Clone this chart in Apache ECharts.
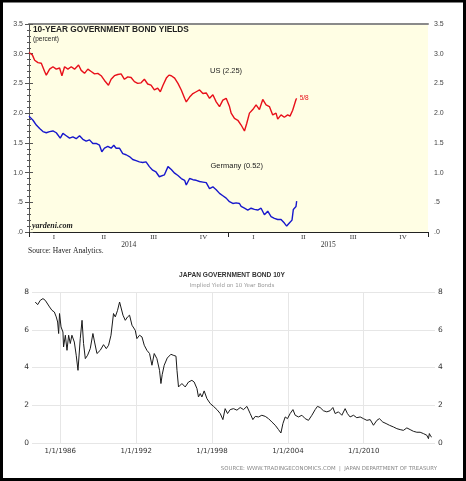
<!DOCTYPE html>
<html><head><meta charset="utf-8">
<script src="https://cdn.jsdelivr.net/npm/echarts@6/dist/echarts.min.js"></script>
<style>html,body{margin:0;padding:0;background:#fff}#c{width:466px;height:481px}</style>
</head><body><div id="c"></div>
<script>
// ---- Top chart: 10-year government bond yields (months since Jan 2014) ----
const quarterLabels = ['I','II','III','IV','I','II','III','IV'];
const yearLabels = ['2014','2015'];
const usMonths = [0,0.2,0.34,0.54,0.74,0.94,1.04,1.24,1.44,1.64,
  1.84,1.98,2.14,2.34,2.54,2.74,2.98,3.14,3.34,3.54,
  3.74,3.94,4.14,4.34,4.54,4.78,4.94,5.14,5.34,5.54,
  5.74,5.94,6.14,6.34,6.54,6.74,6.94,7.14,7.34,7.54,
  7.74,7.9,8.06,8.26,8.42,8.56,8.76,8.96,9.16,9.36,
  9.46,9.66,9.86,10.06,10.26,10.46,10.66,10.86,11.06,11.26,
  11.46,11.66,11.86,12.06,12.16,12.36,12.56,12.76,12.96,13.1,
  13.26,13.46,13.66,13.86,14.06,14.26,14.46,14.66,14.86,14.96,
  15.16,15.36,15.56,15.7,15.86,16.06,16.1];
const usValues = [3.02,2.98,2.89,2.85,2.84,2.70,2.64,2.74,2.78,2.74,
  2.76,2.63,2.78,2.74,2.78,2.74,2.81,2.72,2.67,2.74,
  2.70,2.66,2.67,2.63,2.55,2.47,2.57,2.63,2.65,2.66,
  2.57,2.61,2.60,2.53,2.50,2.51,2.57,2.49,2.47,2.39,
  2.42,2.36,2.47,2.59,2.64,2.63,2.59,2.50,2.39,2.25,
  2.19,2.27,2.33,2.36,2.39,2.33,2.34,2.25,2.31,2.19,
  2.11,2.22,2.25,2.11,2.00,1.91,1.88,1.80,1.70,1.83,
  2.00,2.06,2.14,2.06,2.23,2.14,2.11,1.97,2.00,1.90,
  1.97,1.93,1.97,1.95,2.05,2.23,2.25];
const deMonths = [0,0.24,0.44,0.64,0.84,1.04,1.24,1.44,1.64,1.88,
  2.04,2.24,2.44,2.64,2.84,3.04,3.24,3.44,3.64,3.84,
  4.04,4.24,4.38,4.54,4.74,4.94,5.1,5.24,5.44,5.64,
  5.84,6.04,6.24,6.44,6.64,6.84,7.04,7.24,7.44,7.64,
  7.84,7.94,8.14,8.36,8.56,8.76,8.96,9.16,9.36,9.46,
  9.66,9.86,10.06,10.26,10.46,10.66,10.86,11.06,11.26,11.46,
  11.66,11.86,12.06,12.26,12.46,12.66,12.76,12.96,13.16,13.36,
  13.56,13.76,13.96,14.16,14.36,14.56,14.76,14.96,15.16,15.36,
  15.5,15.66,15.82,15.9,16.06,16.1];
const deValues = [1.95,1.88,1.80,1.74,1.69,1.67,1.69,1.70,1.67,1.58,
  1.66,1.62,1.58,1.60,1.57,1.62,1.56,1.53,1.55,1.49,
  1.49,1.46,1.35,1.41,1.44,1.41,1.46,1.41,1.41,1.32,
  1.30,1.27,1.22,1.20,1.18,1.17,1.18,1.10,1.04,1.01,
  0.93,0.90,0.96,1.10,1.05,0.99,0.95,0.90,0.87,0.79,
  0.90,0.88,0.87,0.85,0.84,0.83,0.73,0.76,0.71,0.65,
  0.61,0.57,0.51,0.48,0.49,0.48,0.43,0.40,0.37,0.40,
  0.38,0.37,0.40,0.29,0.35,0.26,0.23,0.21,0.21,0.15,
  0.10,0.15,0.20,0.38,0.43,0.52];

// ---- Bottom chart: Japan government bond 10Y (decimal years) ----
const jpYears = [1984.02,1984.21,1984.42,1984.63,1984.81,1984.95,1985.15,1985.34,1985.53,1985.68,
  1985.79,1985.87,1985.94,1986.06,1986.21,1986.26,1986.40,1986.53,1986.66,1986.79,
  1986.92,1987.11,1987.26,1987.40,1987.58,1987.72,1987.84,1987.98,1988.16,1988.37,
  1988.58,1988.71,1988.90,1989.16,1989.42,1989.64,1989.82,1990.01,1990.21,1990.35,
  1990.53,1990.69,1990.80,1990.96,1991.14,1991.32,1991.48,1991.67,1991.93,1992.06,
  1992.27,1992.46,1992.64,1992.85,1993.06,1993.25,1993.43,1993.64,1993.85,1993.96,
  1994.06,1994.22,1994.46,1994.75,1994.93,1995.15,1995.23,1995.35,1995.62,1995.88,
  1996.14,1996.41,1996.59,1996.81,1996.93,1997.07,1997.20,1997.38,1997.60,1997.86,
  1998.12,1998.39,1998.65,1998.86,1999.04,1999.23,1999.44,1999.70,1999.97,2000.23,
  2000.49,2000.76,2001.02,2001.23,2001.42,2001.68,2001.94,2002.21,2002.47,2002.74,
  2003.00,2003.26,2003.45,2003.61,2003.79,2003.97,2004.18,2004.40,2004.58,2004.84,
  2005.11,2005.37,2005.63,2005.90,2006.16,2006.34,2006.55,2006.81,2007.08,2007.34,
  2007.56,2007.74,2008.00,2008.27,2008.53,2008.71,2008.92,2009.19,2009.45,2009.72,
  2009.98,2010.25,2010.51,2010.77,2011.04,2011.24,2011.51,2011.77,2012.03,2012.35,
  2012.62,2012.88,2013.14,2013.41,2013.67,2013.93,2014.20,2014.46,2014.72,2014.99,
  2015.12,2015.19,2015.30,2015.38];
const jpValues = [7.47,7.33,7.56,7.65,7.56,7.47,7.21,7.03,6.94,6.68,
  6.41,5.80,6.86,6.15,5.88,5.09,5.71,4.91,5.71,5.27,
  5.71,5.35,4.65,3.85,5.53,6.50,5.27,4.47,4.65,5.00,
  5.80,5.35,4.74,4.91,5.21,5.00,5.18,5.71,6.86,6.68,
  7.03,7.47,7.56,6.77,6.50,6.68,6.77,6.24,5.97,5.53,
  5.71,5.62,5.18,4.91,4.74,4.12,4.74,4.47,3.85,3.15,
  3.62,4.12,4.50,4.70,4.65,4.60,3.85,2.97,3.15,2.97,
  3.23,3.32,3.23,2.88,2.44,2.62,2.44,2.76,2.35,2.09,
  1.94,1.77,1.56,1.24,1.82,1.56,1.77,1.82,1.74,1.88,
  1.77,1.94,1.56,1.24,1.41,1.38,1.47,1.41,1.29,1.11,
  0.94,0.71,0.53,1.03,1.38,1.29,1.56,1.77,1.47,1.38,
  1.47,1.29,1.20,1.47,1.77,1.94,1.88,1.71,1.65,1.71,
  1.88,1.56,1.65,1.47,1.82,1.56,1.38,1.47,1.34,1.38,
  1.29,1.20,1.24,0.94,1.20,1.29,1.11,1.03,0.94,0.85,
  0.76,0.71,0.67,0.80,0.71,0.62,0.57,0.57,0.50,0.41,
  0.23,0.50,0.35,0.32];
const jpTickYears = [1986,1992,1998,2004,2010];

const usData = usMonths.map((m, i) => [m, usValues[i]]);
const deData = deMonths.map((m, i) => [m, deValues[i]]);
const jpData = jpYears.map((y, i) => [y, jpValues[i]]);

const SANS = '"Liberation Sans", Arial, sans-serif';
const SERIF = '"Liberation Serif", "Times New Roman", serif';
const TE = '"DejaVu Sans", Verdana, sans-serif';
const topFmt = v => v.toFixed(1).replace(/^0/, '');
const jpGrid = '#e6e6e6';

const chart = echarts.init(document.getElementById('c'), null, {renderer: 'canvas'});
chart.setOption({
  animation: false,
  backgroundColor: '#ffffff',
  grid: [
    {left: 29, top: 24, width: 399, height: 208, show: true, backgroundColor: '#fffee4', borderWidth: 0},
    {left: 35, top: 292, width: 397, height: 151, show: false}
  ],
  xAxis: [
    {type: 'value', gridIndex: 0, min: 0, max: 24, interval: 12,
     axisLine: {show: true, lineStyle: {color: '#222', width: 1}},
     axisTick: {show: true, length: 5, lineStyle: {color: '#222'}},
     axisLabel: {show: false}, splitLine: {show: false}},
    {type: 'category', gridIndex: 0, position: 'bottom', data: quarterLabels, boundaryGap: true,
     axisLine: {show: false}, axisTick: {show: false}, splitLine: {show: false},
     axisLabel: {margin: 2, fontFamily: SERIF, fontSize: 7, color: '#333'}},
    {type: 'category', gridIndex: 0, position: 'bottom', data: yearLabels, boundaryGap: true,
     axisLine: {show: false}, axisTick: {show: false}, splitLine: {show: false},
     axisLabel: {margin: 9.5, fontFamily: SERIF, fontSize: 7.5, color: '#333'}},
    {type: 'value', gridIndex: 0, position: 'top', min: 0, max: 1,
     axisLine: {show: true, lineStyle: {color: '#8a8a8a', width: 2}},
     axisTick: {show: false}, axisLabel: {show: false}, splitLine: {show: false}},
    {type: 'value', gridIndex: 1, min: 1984, max: 2015.4,
     axisLine: {show: false},
     axisTick: {show: false, customValues: jpTickYears},
     axisLabel: {customValues: jpTickYears, formatter: v => '1/1/' + v, margin: 5,
                 fontFamily: TE, fontSize: 7, color: '#333'},
     splitLine: {show: true, lineStyle: {color: jpGrid, width: 1}}}
  ],
  yAxis: [
    {type: 'value', gridIndex: 0, position: 'left', min: 0, max: 3.5, interval: 0.5,
     axisLine: {show: true, lineStyle: {color: '#555', width: 1}},
     axisTick: {show: true, length: 4, lineStyle: {color: '#555'}},
     minorTick: {show: true, splitNumber: 5, length: 2, lineStyle: {color: '#555'}},
     axisLabel: {formatter: topFmt, margin: 6, fontFamily: SANS, fontSize: 7, color: '#444'},
     splitLine: {show: false}},
    {type: 'value', gridIndex: 0, position: 'right', min: 0, max: 3.5, interval: 0.5,
     axisLine: {show: true, lineStyle: {color: '#555', width: 1}},
     axisTick: {show: true, length: 4, lineStyle: {color: '#555'}},
     minorTick: {show: true, splitNumber: 5, length: 2, lineStyle: {color: '#555'}},
     axisLabel: {formatter: topFmt, margin: 6, fontFamily: SANS, fontSize: 7, color: '#444'},
     splitLine: {show: false}},
    {type: 'value', gridIndex: 1, position: 'left', min: 0, max: 8, interval: 2,
     axisLine: {show: false},
     axisTick: {show: true, length: 3, lineStyle: {color: jpGrid}},
     axisLabel: {margin: 6, fontFamily: TE, fontSize: 7.5, color: '#333'},
     splitLine: {show: true, lineStyle: {color: jpGrid, width: 1}}},
    {type: 'value', gridIndex: 1, position: 'right', min: 0, max: 8, interval: 2,
     axisLine: {show: false},
     axisTick: {show: true, length: 3, lineStyle: {color: jpGrid}},
     axisLabel: {margin: 6, fontFamily: TE, fontSize: 7.5, color: '#333'},
     splitLine: {show: false}}
  ],
  series: [
    {name: 'US', type: 'line', xAxisIndex: 0, yAxisIndex: 0, data: usData, showSymbol: false,
     lineStyle: {color: '#e8101a', width: 1.4}, itemStyle: {color: '#e8101a'},
     endLabel: {show: true, formatter: '5/8', color: '#e8101a', fontSize: 6.5, fontFamily: SANS, distance: 3}},
    {name: 'Germany', type: 'line', xAxisIndex: 0, yAxisIndex: 0, data: deData, showSymbol: false,
     lineStyle: {color: '#1818cc', width: 1.4}, itemStyle: {color: '#1818cc'}},
    {name: 'Japan', type: 'line', xAxisIndex: 4, yAxisIndex: 2, data: jpData, showSymbol: false,
     lineStyle: {color: '#1a1a1a', width: 1}, itemStyle: {color: '#1a1a1a'}}
  ],
  graphic: [
    {type: 'text', x: 33, y: 30, style: {text: '10-YEAR GOVERNMENT BOND YIELDS', font: 'bold 8.3px ' + SANS, fill: '#222', textVerticalAlign: 'middle'}},
    {type: 'text', x: 33, y: 39.5, style: {text: '(percent)', font: '6.5px ' + SANS, fill: '#222', textVerticalAlign: 'middle'}},
    {type: 'text', x: 210, y: 71, style: {text: 'US (2.25)', font: '7.5px ' + SANS, fill: '#222', textVerticalAlign: 'middle'}},
    {type: 'text', x: 210.5, y: 166, style: {text: 'Germany (0.52)', font: '7.5px ' + SANS, fill: '#222', textVerticalAlign: 'middle'}},
    {type: 'text', x: 32, y: 226, style: {text: 'yardeni.com', font: 'italic bold 8px ' + SERIF, fill: '#222', textVerticalAlign: 'middle'}},
    {type: 'text', x: 28, y: 251, style: {text: 'Source: Haver Analytics.', font: '7.5px ' + SERIF, fill: '#222', textVerticalAlign: 'middle'}},
    {type: 'text', x: 232, y: 275, style: {text: 'JAPAN GOVERNMENT BOND 10Y', font: 'bold 6.6px ' + SANS, fill: '#333', textAlign: 'center', textVerticalAlign: 'middle'}},
    {type: 'text', x: 232, y: 286, style: {text: 'Implied Yield on 10 Year Bonds', font: '5.5px ' + TE, fill: '#999', textAlign: 'center', textVerticalAlign: 'middle'}},
    {type: 'text', x: 437, y: 469, style: {text: 'SOURCE: WWW.TRADINGECONOMICS.COM  |  JAPAN DEPARTMENT OF TREASURY', font: '5.4px ' + TE, fill: '#888', textAlign: 'right', textVerticalAlign: 'middle'}},
    {type: 'rect', z: 100, shape: {x: 1.5, y: 1, width: 463, height: 478.5}, style: {fill: 'none', stroke: '#000', lineWidth: 3}}
  ]
});
</script></body></html>
